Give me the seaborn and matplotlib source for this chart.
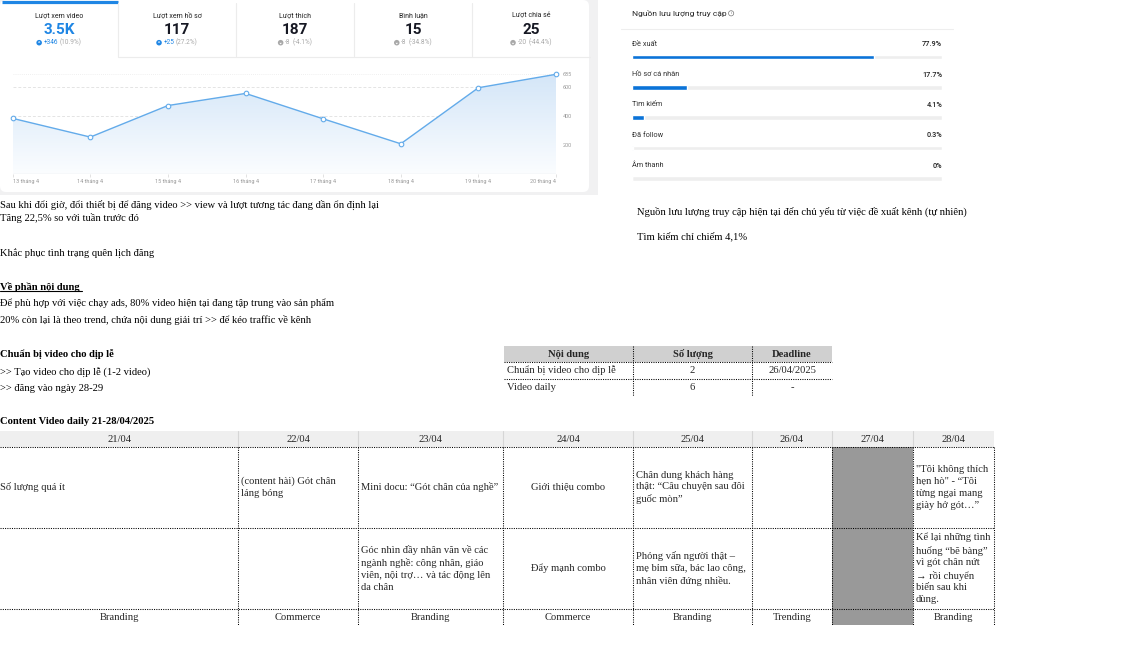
import numpy as np
import pandas as pd
import seaborn as sns
import matplotlib.pyplot as plt
from matplotlib.patches import Rectangle, FancyBboxPatch, Circle, Polygon
from matplotlib.colors import LinearSegmentedColormap
from matplotlib.offsetbox import TextArea, DrawingArea, HPacker, AnnotationBbox

# ---- data ----
days = ['13 tháng 4', '14 tháng 4', '15 tháng 4', '16 tháng 4',
        '17 tháng 4', '18 tháng 4', '19 tháng 4', '20 tháng 4']
views = [383, 255, 471, 554, 380, 209, 593, 685]
view_ticks = [200, 400, 600, 685]

tab_titles = ['Lượt xem video', 'Lượt xem hồ sơ', 'Lượt thích', 'Bình luận', 'Lượt chia sẻ']
tab_values = ['3.5K', '117', '187', '15', '25']
tab_deltas = ['+346', '+25', '-8', '-8', '-20']
tab_pcts = ['(10.9%)', '(27.2%)', '(-4.1%)', '(-34.8%)', '(-44.4%)']
tab_up = [True, True, False, False, False]

sources = ['Đề xuất', 'Hồ sơ cá nhân', 'Tìm kiếm', 'Đã follow', 'Âm thanh']
source_pct = [77.9, 17.7, 4.1, 0.3, 0.0]

notes_left = [
    'Sau khi đổi giờ, đổi thiết bị để đăng video >> view và lượt tương tác đang dần ổn định lại',
    'Tăng 22,5% so với tuần trước đó',
    'Khắc phục tình trạng quên lịch đăng',
    'Về phần nội dung ',
    'Để phù hợp với việc chạy ads, 80% video hiện tại đang tập trung vào sản phẩm',
    '20% còn lại là theo trend, chứa nội dung giải trí >> để kéo traffic về kênh',
    'Chuẩn bị video cho dịp lễ',
    '>> Tạo video cho dịp lễ (1-2 video)',
    '>> đăng vào ngày 28-29',
    'Content Video daily 21-28/04/2025',
]
notes_bold = [False, False, False, True, False, False, True, False, False, True]
notes_right = [
    'Nguồn lưu lượng truy cập hiện tại đến chủ yếu từ việc đề xuất kênh (tự nhiên)',
    'Tìm kiếm chỉ chiếm 4,1%',
]

plan_cols = ['Nội dung', 'Số lượng', 'Deadline']
plan_rows = [['Chuẩn bị video cho dịp lễ', '2', '26/04/2025'],
             ['Video daily', '6', '-']]

cal_days = ['21/04', '22/04', '23/04', '24/04', '25/04', '26/04', '27/04', '28/04']
cal_idea1 = ['Số lượng quá ít',
             '(content hài) Gót chân\nláng bóng',
             'Mini docu: “Gót chân của nghề”',
             'Giới thiệu combo',
             'Chân dung khách hàng\nthật: “Câu chuyện sau đôi\nguốc mòn”',
             '', '',
             '"Tôi không thích\nhẹn hò" - “Tôi\ntừng ngại mang\ngiày hở gót…”']
cal_idea2 = ['', '',
             'Góc nhìn đầy nhân văn về các\nngành nghề: công nhân, giáo\nviên, nội trợ… và tác động lên\nda chân',
             'Đẩy mạnh combo',
             'Phỏng vấn người thật –\nmẹ bỉm sữa, bác lao công,\nnhân viên đứng nhiều.',
             '', '',
             'Kể lại những tình\nhuống “bẽ bàng”\nvì gót chân nứt\n→ rồi chuyển\nbiến sau khi\ndùng.']
cal_type = ['Branding', 'Commerce', 'Branding', 'Commerce', 'Branding', 'Trending', '', 'Branding']
cal_off = '27/04'

# ---- figure setup ----
W, H = 1146, 646
sns.set_theme(style='white')
plt.rcParams['font.family'] = ['Liberation Serif', 'DejaVu Serif']
SANS = ['Roboto', 'DejaVu Sans']
BLUE = '#1f86e4'

fig = plt.figure(figsize=(W / 100, H / 100), dpi=100)
bg = fig.add_axes([0, 0, 1, 1])
bg.set_xlim(0, W)
bg.set_ylim(H, 0)
bg.axis('off')


def box(x0, y0, x1, y1):
    a = fig.add_axes([x0 / W, 1 - y1 / H, (x1 - x0) / W, (y1 - y0) / H])
    a.patch.set_alpha(0)
    return a


# card behind the tiktok stats
bg.add_patch(Rectangle((0, 0), 598, 195, fc='#f1f1f2', lw=0))
bg.add_patch(FancyBboxPatch((0, 0), 589, 192, boxstyle='round,pad=0,rounding_size=6',
                            fc='white', lw=0))

# tabs
tab_edges = np.linspace(0, 590, len(tab_titles) + 1)
bg.plot([2, tab_edges[1]], [1.6, 1.6], color=BLUE, lw=2.3, solid_capstyle='butt')
for e in tab_edges[1:-1]:
    bg.plot([e, e], [3, 57], color='#ececec', lw=0.8)
bg.plot([tab_edges[1], 590], [57, 57], color='#ececec', lw=0.8)

for i, (t, v, d, p, up) in enumerate(zip(tab_titles, tab_values, tab_deltas, tab_pcts, tab_up)):
    cx = (tab_edges[i] + tab_edges[i + 1]) / 2
    bg.text(cx, 16, t, ha='center', va='center', fontsize=5, family=SANS, color='#222222')
    bg.text(cx, 30.5, v, ha='center', va='center', fontsize=11, family=SANS, weight='bold',
            color=BLUE if i == 0 else '#161823')
    ic = BLUE if up else '#a8a8a8'
    da = DrawingArea(4, 4, 0, 0)
    da.add_artist(Circle((2, 2), 2, fc=ic, ec='none'))
    da.add_artist(Polygon([(1.1, 2.1 if up else 1.9), (2.9, 2.1 if up else 1.9),
                           (2, 3.2 if up else 0.8)], closed=True, fc='white', ec='none'))
    packer = HPacker(children=[da,
                               TextArea(d, textprops=dict(fontsize=4.7, family=SANS, color=ic)),
                               TextArea(p, textprops=dict(fontsize=4.7, family=SANS, color='#a8a8a8'))],
                     align='center', pad=0, sep=1.2)
    bg.add_artist(AnnotationBbox(packer, (cx, 42.7), xycoords='data', frameon=False,
                                 box_alignment=(0.5, 0.5), pad=0))

# line chart
df = pd.DataFrame({'pos': np.arange(len(days)), 'views': views})
ax = box(12.7, 74.3, 556, 174.3)
poly = ax.fill_between(df['pos'], df['views'], 0, color='none', lw=0)
grad_cmap = LinearSegmentedColormap.from_list('g', ['#fbfdff', '#d4e6f8'])
grad = ax.imshow(np.linspace(0, 1, 256).reshape(-1, 1), extent=[0, len(days) - 1, 0, max(views)],
                 origin='lower', aspect='auto', cmap=grad_cmap, zorder=1)
grad.set_clip_path(poly.get_paths()[0], transform=ax.transData)
for v in view_ticks[:-1]:
    ax.axhline(v, color='#e4e4e4', lw=0.7, ls=(0, (3, 2)), zorder=0)
ax.axhline(view_ticks[-1], color='#ebebeb', lw=0.6, ls=(0, (1, 1.5)), zorder=0)
ax.axhline(0, color='#e2e2e2', lw=0.9, zorder=2)
sns.lineplot(data=df, x='pos', y='views', ax=ax, color='#63abea', lw=1.0, marker='o',
             markersize=3.3, markerfacecolor='white', markeredgecolor='#63abea',
             markeredgewidth=0.8, zorder=3, clip_on=False)
ax.set_xlim(0, len(days) - 1)
ax.set_ylim(0, max(views))
ax.set_xlabel('')
ax.set_ylabel('')
ax.grid(False)
sns.despine(ax=ax, left=True, bottom=True)
ax.set_xticks(df['pos'], days)
ax.tick_params(axis='x', length=2, width=0.6, color='#dddddd', pad=1.2,
               labelsize=4, labelcolor='#9a9a9a', bottom=True)
ax.yaxis.tick_right()
ax.set_yticks(view_ticks)
ax.tick_params(axis='y', length=0, pad=5, labelsize=4, labelcolor='#9a9a9a')
for lab in ax.get_xticklabels() + ax.get_yticklabels():
    lab.set_family(SANS)
ax.get_xticklabels()[0].set_ha('left')
ax.get_xticklabels()[-1].set_ha('right')

# traffic sources
src_title = bg.text(632, 13.3, 'Nguồn lưu lượng truy cập', ha='left', va='center', fontsize=6,
                    family=SANS, color='#222222')
bg.plot([621, 953], [29.3, 29.3], color='#eeeeee', lw=0.8)
src = pd.DataFrame({'source': sources, 'pct': source_pct, 'track': 100.0})
ax2 = box(631.7, 26.67, 942.3, 193.5)
sns.barplot(data=src, x='track', y='source', color='#eeeeee', width=0.155, saturation=1, ax=ax2)
sns.barplot(data=src, x='pct', y='source', color='#0b73d8', width=0.155, saturation=1, ax=ax2)
ax2.set_xlim(0, 100)
ax2.set_ylim(len(sources) - 0.5, -1.0)
ax2.axis('off')
for i, (s, p) in enumerate(zip(sources, source_pct)):
    ax2.text(0, i - 0.42, s, ha='left', va='center', fontsize=5.3, family=SANS, color='#333333')
    ax2.text(100, i - 0.42, f'{p:g}%', ha='right', va='center', fontsize=5.3, family=SANS,
             color='#222222', weight='medium')

# notes
FS = 7.6
LS = 1.4
note_y = [205, 218.3, 252.7, 286.7, 303.3, 320, 354.3, 371.7, 388.3, 421.7]
heading = None
for txt, b, y in zip(notes_left, notes_bold, note_y):
    t = bg.text(0, y, txt, ha='left', va='center', fontsize=FS,
                weight='bold' if b else 'normal', color='black')
    if txt.startswith('Về phần'):
        heading = t
for txt, y in zip(notes_right, [211.5, 236]):
    bg.text(636.7, y, txt, ha='left', va='center', fontsize=FS, color='black')

# plan table
p_edges = [504, 633, 752, 832]
p_rows = [346, 362, 379, 396]
bg.add_patch(Rectangle((p_edges[0], p_rows[0]), p_edges[-1] - p_edges[0], p_rows[1] - p_rows[0],
                       fc='#d0d0d0', lw=0))
DOT = dict(color='black', lw=0.75, ls=(0, (1, 1.2)))
for e in p_edges[1:-1]:
    bg.plot([e, e], [p_rows[0], p_rows[-1]], **DOT)
for r in p_rows[1:-1]:
    bg.plot([p_edges[0], p_edges[-1]], [r, r], **DOT)
for j, c in enumerate(plan_cols):
    bg.text((p_edges[j] + p_edges[j + 1]) / 2, (p_rows[0] + p_rows[1]) / 2 + 0.3, c,
            ha='center', va='center', fontsize=FS, weight='bold')
for i, row in enumerate(plan_rows):
    yc = (p_rows[i + 1] + p_rows[i + 2]) / 2
    for j, c in enumerate(row):
        if j == 0:
            bg.text(p_edges[j] + 3, yc, c, ha='left', va='center', fontsize=FS)
        else:
            bg.text((p_edges[j] + p_edges[j + 1]) / 2, yc, c, ha='center', va='center', fontsize=FS)

# content calendar
c_edges = [0, 238, 358, 503, 633, 752, 832, 913, 994]
c_rows = [431, 447, 528, 609, 625]
bg.add_patch(Rectangle((0, c_rows[0]), c_edges[-1], c_rows[1] - c_rows[0], fc='#efefef', lw=0))
off = cal_days.index(cal_off)
bg.add_patch(Rectangle((c_edges[off], c_rows[1]), c_edges[off + 1] - c_edges[off],
                       c_rows[-1] - c_rows[1], fc='#999999', lw=0))
for e in c_edges[1:-1]:
    bg.plot([e, e], [c_rows[0], c_rows[1]], color='#d6d6d6', lw=0.8)
for e in c_edges[1:]:
    bg.plot([e, e], [c_rows[1], c_rows[-1]], **DOT)
for r in c_rows[1:-1]:
    bg.plot([0, c_edges[-1]], [r, r], **DOT)
for j, d in enumerate(cal_days):
    bg.text((c_edges[j] + c_edges[j + 1]) / 2, (c_rows[0] + c_rows[1]) / 2 + 0.3, d,
            ha='center', va='center', fontsize=FS)
for r, row in enumerate([cal_idea1, cal_idea2]):
    yc = (c_rows[r + 1] + c_rows[r + 2]) / 2
    for j, c in enumerate(row):
        if not c:
            continue
        if j == 3:
            bg.text((c_edges[j] + c_edges[j + 1]) / 2, yc, c, ha='center', va='center',
                    fontsize=FS, linespacing=LS)
        else:
            x = c_edges[j] + (0 if j == 0 else 3)
            bg.text(x, yc, c, ha='left', va='center', fontsize=FS, linespacing=LS)
for j, c in enumerate(cal_type):
    bg.text((c_edges[j] + c_edges[j + 1]) / 2, (c_rows[3] + c_rows[4]) / 2 + 0.5, c,
            ha='center', va='center', fontsize=FS)

# underline of the section heading, info icon after the traffic title
fig.canvas.draw()
inv = bg.transData.inverted()
bb = heading.get_window_extent().transformed(inv)
bg.plot([0, max(bb.x0, bb.x1)], [290.8, 290.8], color='black', lw=0.8)
tb = src_title.get_window_extent().transformed(inv)
ix = max(tb.x0, tb.x1) + 4.5
bg.add_patch(Circle((ix, 13.3), 2.6, fc='none', ec='#777777', lw=0.5))
bg.text(ix, 13.5, 'i', ha='center', va='center', fontsize=3.2, family=SANS, color='#777777')

fig.savefig('out.png', dpi=100)
